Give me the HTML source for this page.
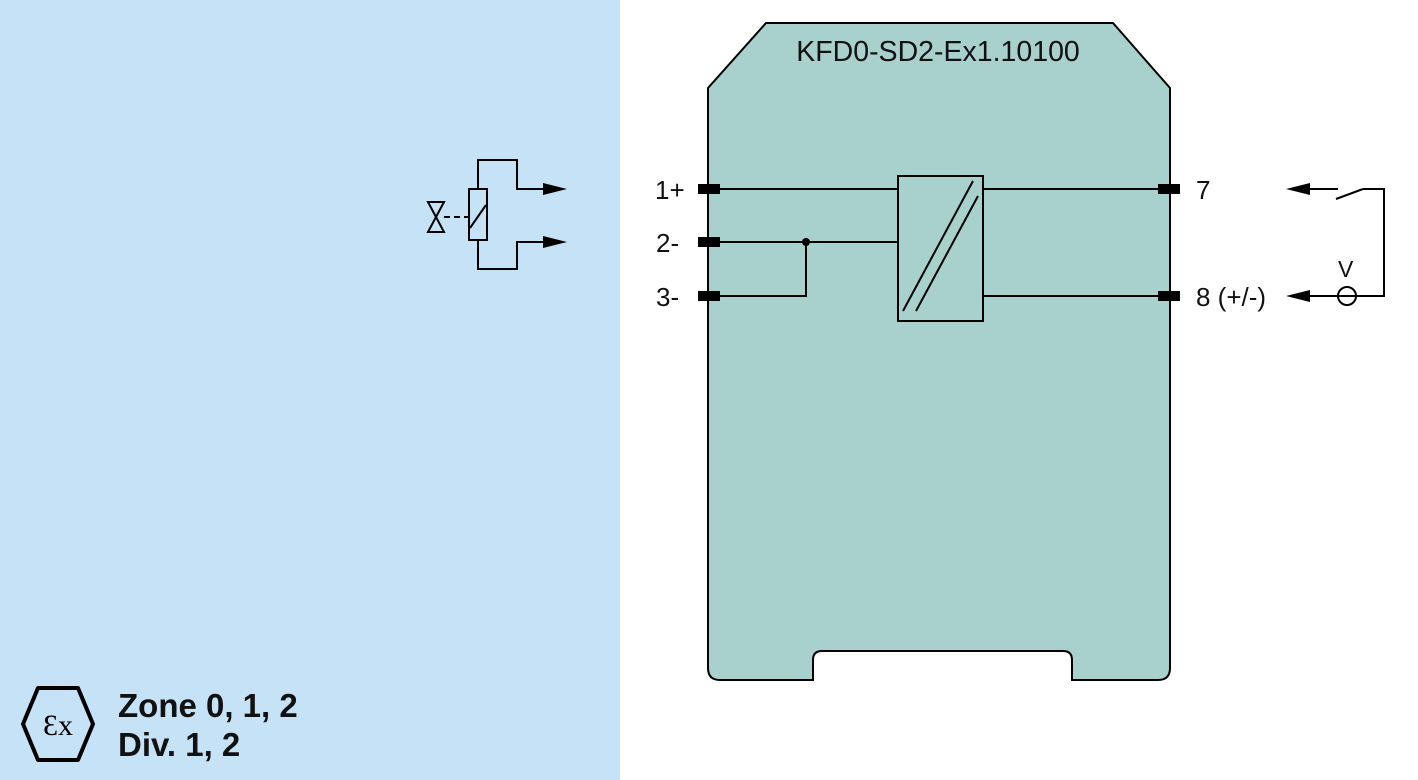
<!DOCTYPE html>
<html><head><style>body{margin:0;background:#fff}svg{display:block}</style></head><body>
<svg width="1418" height="780" viewBox="0 0 1418 780" xmlns="http://www.w3.org/2000/svg" font-family="Liberation Sans, Arial, sans-serif">
<rect x="0" y="0" width="620" height="780" fill="#c6e2f7"/>
<path d="M766,23 L1113,23 L1170,88 L1170,668 Q1170,680 1158,680 L1072,680 L1072,660 Q1072,651 1063,651 L822,651 Q813,651 813,660 L813,680 L720,680 Q708,680 708,668 L708,88 Z" fill="#a8d1cd" stroke="#000" stroke-width="2"/>
<text x="938" y="61" font-size="28.5" text-anchor="middle" fill="#111">KFD0-SD2-Ex1.10100</text>
<g stroke="#000" stroke-width="2" fill="none">
<line x1="720" y1="189" x2="898" y2="189"/>
<line x1="720" y1="242" x2="898" y2="242"/>
<polyline points="806,242 806,296 720,296"/>
<line x1="983" y1="189" x2="1158" y2="189"/>
<line x1="983" y1="296" x2="1158" y2="296"/>
<rect x="898" y="176" width="85" height="145"/>
<line x1="903" y1="311" x2="973" y2="181"/>
<line x1="916" y1="311" x2="978" y2="196"/>
</g>
<circle cx="806" cy="242" r="4" fill="#000"/>
<g fill="#000">
<rect x="698" y="184" width="22" height="10"/>
<rect x="698" y="237" width="22" height="10"/>
<rect x="698" y="291" width="22" height="10"/>
<rect x="1158" y="184" width="22" height="10"/>
<rect x="1158" y="291" width="22" height="10"/>
</g>
<g font-size="26" fill="#111">
<text x="655" y="199">1+</text>
<text x="656" y="252">2-</text>
<text x="656" y="306">3-</text>
<text x="1196" y="199">7</text>
<text x="1196" y="306">8 (+/-)</text>
<text x="1338" y="277" font-size="23">V</text>
</g>
<g stroke="#000" stroke-width="2" fill="none">
<rect x="469" y="189" width="18" height="51"/>
<line x1="470" y1="228" x2="486" y2="205"/>
<polyline points="478,189 478,160 517,160 517,189 545,189"/>
<polyline points="478,240 478,269 517,269 517,242 545,242"/>
<line x1="444" y1="217" x2="469" y2="217" stroke-dasharray="6,4"/>
<polygon points="428,202 444,202 428,232 444,232"/>
<line x1="1336" y1="199" x2="1363" y2="189"/>
<polyline points="1363,189 1384,189 1384,296 1305,296"/>
<line x1="1338" y1="189" x2="1305" y2="189"/>
<circle cx="1347" cy="296" r="9"/>
</g>
<g fill="#000">
<polygon points="543,183 567,189 543,195"/>
<polygon points="543,236 567,242 543,248"/>
<polygon points="1310,183 1286,189 1310,195"/>
<polygon points="1310,290 1286,296 1310,302"/>
</g>
<polygon points="38,688 78,688 93,724 78,760 38,760 23,724" fill="none" stroke="#000" stroke-width="4" stroke-linejoin="round"/>
<text x="58" y="735" font-size="30" text-anchor="middle" font-family="Liberation Serif, serif" fill="#000">Ɛx</text>
<g font-size="33" font-weight="bold" fill="#111">
<text x="118" y="717">Zone 0, 1, 2</text>
<text x="118" y="756">Div. 1, 2</text>
</g>
</svg>
</body></html>
